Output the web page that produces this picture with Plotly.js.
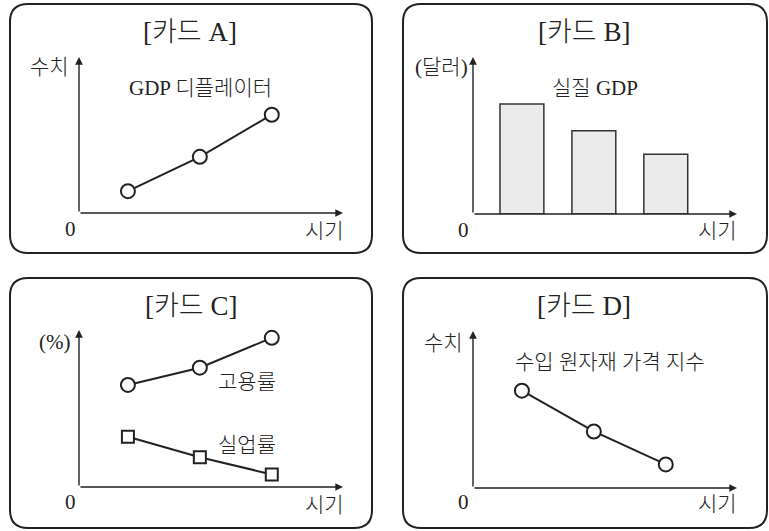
<!DOCTYPE html>
<html>
<head>
<meta charset="utf-8">
<script src="https://cdn.plot.ly/plotly-3.0.1.min.js"></script>
<style>html,body{margin:0;padding:0;background:#fff;}#chart{width:769px;height:531px;}</style>
</head>
<body>
<div id="chart"></div>
<script>
// ---- data (schematic values, 0-10 scale) ----
const periods = [1, 2, 3];
const gdpDeflator = [1.4, 3.6, 6.3];
const realGDP = [7.0, 5.3, 3.8];
const employmentRate = [6.5, 7.6, 9.5];
const unemploymentRate = [3.2, 1.9, 0.8];
const importPriceIndex = [6.2, 3.6, 1.5];
const cardTitles = ['[카드 A]', '[카드 B]', '[카드 C]', '[카드 D]'];
const seriesLabels = ['GDP 디플레이터', '실질 GDP', '고용률', '실업률', '수입 원자재 가격 지수'];
const yAxisLabels = ['수치', '(달러)', '(%)', '수치'];
const xAxisLabel = '시기';
const originLabel = '0';

// ---- layout helpers ----
const W = 769, H = 531;
const PX = x => x / W;
const PY = y => 1 - y / H;
const INK = '#222';
const FONT = "'Liberation Serif', 'Noto Sans CJK KR', serif";
const XR = [0.32, 3.99];
const YR = [0, 10];
const TITLE_SIZE = 27;
const LABEL_SIZE = 21;

const lineStyle = {color: INK, width: 2};
const circleMarker = {symbol: 'circle', size: 14, color: '#fff', line: {color: INK, width: 2}};
const squareMarker = {symbol: 'square', size: 12, color: '#fff', line: {color: INK, width: 2}};

const traces = [
  {x: periods, y: gdpDeflator, xaxis: 'x', yaxis: 'y', mode: 'lines+markers', line: lineStyle, marker: circleMarker, cliponaxis: false},
  {x: periods, y: realGDP, xaxis: 'x2', yaxis: 'y2', type: 'bar', width: 0.61,
   marker: {color: '#ebebeb', line: {color: '#333', width: 1.5}}},
  {x: periods, y: employmentRate, xaxis: 'x3', yaxis: 'y3', mode: 'lines+markers', line: lineStyle, marker: circleMarker, cliponaxis: false},
  {x: periods, y: unemploymentRate, xaxis: 'x3', yaxis: 'y3', mode: 'lines+markers', line: lineStyle, marker: squareMarker, cliponaxis: false},
  {x: periods, y: importPriceIndex, xaxis: 'x4', yaxis: 'y4', mode: 'lines+markers', line: lineStyle, marker: circleMarker, cliponaxis: false}
];

// card geometry in pixels
const cards = [
  {box: [10, 4, 372, 253],  ox: 79,  oy: 213, tipY: 57},
  {box: [403, 4, 767, 253], ox: 473, oy: 214, tipY: 57},
  {box: [10, 278, 372, 528], ox: 79, oy: 487, tipY: 330},
  {box: [403, 278, 767, 528], ox: 473, oy: 488, tipY: 331}
];
const AX_LEN = 264;

function axisDef(i, anchor) {
  const c = cards[i];
  return {
    x: {domain: [PX(c.ox), PX(c.ox + AX_LEN)], range: XR, anchor: anchor.y, visible: false, fixedrange: true},
    y: {domain: [PY(c.oy), PY(c.tipY)], range: YR, anchor: anchor.x, visible: false, fixedrange: true}
  };
}

const layout = {
  width: W, height: H,
  margin: {l: 0, r: 0, t: 0, b: 0},
  paper_bgcolor: '#fff', plot_bgcolor: 'rgba(0,0,0,0)',
  showlegend: false,
  bargap: 0,
  shapes: [],
  annotations: []
};
const ids = [['x', 'y'], ['x2', 'y2'], ['x3', 'y3'], ['x4', 'y4']];
ids.forEach((id, i) => {
  const d = axisDef(i, {x: id[0], y: id[1]});
  layout['xaxis' + (i ? i + 1 : '')] = d.x;
  layout['yaxis' + (i ? i + 1 : '')] = d.y;
});

function roundedRect(b, r) {
  const [x0, y0, x1, y1] = b;
  const p = (x, y) => PX(x).toFixed(5) + ',' + PY(y).toFixed(5);
  return 'M' + p(x0 + r, y0) + ' L' + p(x1 - r, y0) + ' Q' + p(x1, y0) + ' ' + p(x1, y0 + r) +
    ' L' + p(x1, y1 - r) + ' Q' + p(x1, y1) + ' ' + p(x1 - r, y1) +
    ' L' + p(x0 + r, y1) + ' Q' + p(x0, y1) + ' ' + p(x0, y1 - r) +
    ' L' + p(x0, y0 + r) + ' Q' + p(x0, y0) + ' ' + p(x0 + r, y0) + ' Z';
}

function text(t, x, y, size) {
  layout.annotations.push({text: t, xref: 'paper', yref: 'paper', x: PX(x), y: PY(y),
    xanchor: 'center', yanchor: 'middle', showarrow: false,
    font: {family: FONT, size: size, color: INK, weight: 300}});
}

cards.forEach((c, i) => {
  layout.shapes.push({type: 'path', xref: 'paper', yref: 'paper', path: roundedRect(c.box, 18),
    line: {color: INK, width: 2}, fillcolor: 'rgba(0,0,0,0)'});
  const xr = ids[i][0], yr = ids[i][1];
  // y axis arrow
  layout.annotations.push({text: '', xref: xr, yref: yr, axref: xr, ayref: yr,
    x: XR[0], y: YR[1], ax: XR[0], ay: YR[0], showarrow: true,
    arrowhead: 2, arrowsize: 1.1, arrowwidth: 1.4, arrowcolor: INK, standoff: 0, startstandoff: 0});
  // x axis arrow
  layout.annotations.push({text: '', xref: xr, yref: yr, axref: xr, ayref: yr,
    x: XR[1], y: YR[0], ax: XR[0], ay: YR[0], showarrow: true,
    arrowhead: 2, arrowsize: 1.1, arrowwidth: 1.4, arrowcolor: INK, standoff: 0, startstandoff: 0});
});

// titles
text(cardTitles[0], 190, 32, TITLE_SIZE);
text(cardTitles[1], 584, 32, TITLE_SIZE);
text(cardTitles[2], 191, 306, TITLE_SIZE);
text(cardTitles[3], 584, 306, TITLE_SIZE);
// y-axis labels
text(yAxisLabels[0], 49, 67, LABEL_SIZE);
text(yAxisLabels[1], 441, 67, LABEL_SIZE);
text(yAxisLabels[2], 54, 342, LABEL_SIZE);
text(yAxisLabels[3], 443, 343, LABEL_SIZE);
// origin labels
text(originLabel, 70, 229, LABEL_SIZE);
text(originLabel, 463, 230, LABEL_SIZE);
text(originLabel, 70, 502, LABEL_SIZE);
text(originLabel, 463, 502, LABEL_SIZE);
// x-axis labels
text(xAxisLabel, 324, 231, LABEL_SIZE);
text(xAxisLabel, 717, 231, LABEL_SIZE);
text(xAxisLabel, 324, 505, LABEL_SIZE);
text(xAxisLabel, 717, 504, LABEL_SIZE);
// series labels
text(seriesLabels[0], 200, 88, LABEL_SIZE);
text(seriesLabels[1], 595, 88, LABEL_SIZE);
text(seriesLabels[2], 247, 382, LABEL_SIZE);
text(seriesLabels[3], 247, 445, LABEL_SIZE);
text(seriesLabels[4], 610, 362, LABEL_SIZE);

Plotly.newPlot('chart', traces, layout, {displayModeBar: false, staticPlot: true});
</script>
</body>
</html>
